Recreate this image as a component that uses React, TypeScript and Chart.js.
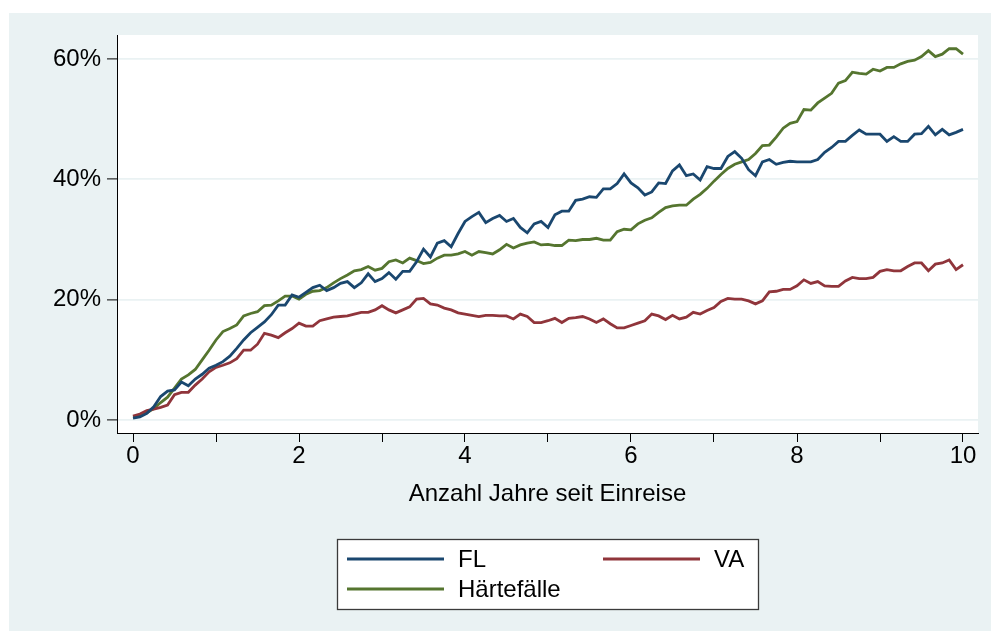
import React, { useEffect, useRef } from 'react';
import { Chart, registerables } from 'chart.js';

Chart.register(...registerables);

// ---------- data ----------
const seriesLabels = ['FL', 'VA', 'Härtefälle'];
const seriesColors = ['#1A476F', '#90353B', '#55752F'];
const xAxisTitle = 'Anzahl Jahre seit Einreise';
const xTickValues = [0, 1, 2, 3, 4, 5, 6, 7, 8, 9, 10];
const xLabelledTicks = [0, 2, 4, 6, 8, 10];
const yTickValues = [0, 20, 40, 60];
const monthsPerYear = 12;

// monthly shares in %, month 0 .. 120
const FL = [
  0.3, 0.5, 1.1, 2.2, 3.9, 4.8, 5.0, 6.3, 5.7, 6.8,
  7.6, 8.6, 9.1, 9.7, 10.6, 11.9, 13.3, 14.5, 15.4, 16.3,
  17.5, 19.1, 19.1, 20.8, 20.4, 21.2, 22.0, 22.4, 21.5, 22.0,
  22.7, 23.0, 22.0, 22.8, 24.3, 23.0, 23.5, 24.5, 23.4, 24.7,
  24.7, 26.3, 28.4, 27.1, 29.4, 29.8, 28.8, 31.0, 33.0, 33.8,
  34.5, 32.8, 33.5, 34.0, 33.0, 33.5, 32.0, 31.1, 32.6, 33.0,
  32.0, 34.1, 34.7, 34.7, 36.5, 36.7, 37.1, 37.0, 38.4, 38.4,
  39.3, 40.9, 39.4, 38.6, 37.4, 37.9, 39.4, 39.3, 41.4, 42.4,
  40.6, 40.9, 39.9, 42.1, 41.8, 41.8, 43.8, 44.6, 43.5, 41.6,
  40.6, 42.9, 43.3, 42.5, 42.8, 43.0, 42.9, 42.9, 42.9, 43.3,
  44.5, 45.3, 46.3, 46.3, 47.3, 48.2, 47.5, 47.5, 47.5, 46.3,
  47.1, 46.3, 46.3, 47.5, 47.6, 48.8, 47.4, 48.3, 47.4, 47.8,
  48.3,
];

const VA = [
  0.66, 1.0, 1.55, 1.8, 2.1, 2.5, 4.2, 4.6, 4.6, 5.8,
  6.8, 8.0, 8.75, 9.1, 9.5, 10.2, 11.6, 11.6, 12.6, 14.4,
  14.1, 13.7, 14.5, 15.2, 16.1, 15.6, 15.6, 16.5, 16.8, 17.1,
  17.2, 17.3, 17.6, 17.9, 17.9, 18.3, 19.0, 18.3, 17.8, 18.3,
  18.8, 20.1, 20.2, 19.3, 19.1, 18.6, 18.3, 17.8, 17.6, 17.4,
  17.2, 17.4, 17.4, 17.3, 17.3, 16.8, 17.6, 17.2, 16.2, 16.2,
  16.5, 16.9, 16.2, 16.9, 17.0, 17.2, 16.8, 16.2, 16.8, 16.0,
  15.3, 15.3, 15.7, 16.1, 16.5, 17.6, 17.3, 16.7, 17.4, 16.8,
  17.1, 17.9, 17.6, 18.2, 18.7, 19.7, 20.2, 20.1, 20.1, 19.8,
  19.3, 19.8, 21.3, 21.4, 21.7, 21.7, 22.3, 23.3, 22.7, 23.0,
  22.3, 22.2, 22.2, 23.1, 23.7, 23.5, 23.5, 23.7, 24.7, 25.0,
  24.8, 24.8, 25.5, 26.1, 26.1, 24.8, 25.9, 26.1, 26.6, 25.0,
  25.8,
];

const HF = [
  0.55, 0.66, 1.2, 1.9, 2.9, 3.8, 5.3, 6.8, 7.5, 8.4,
  10.0, 11.6, 13.3, 14.7, 15.2, 15.8, 17.3, 17.7, 18.0, 19.0,
  19.1, 19.8, 20.6, 20.6, 20.1, 20.9, 21.4, 21.5, 22.0, 22.8,
  23.5, 24.1, 24.8, 25.0, 25.5, 24.9, 25.2, 26.3, 26.6, 26.1,
  26.9, 26.5, 26.0, 26.2, 26.9, 27.4, 27.4, 27.6, 28.0, 27.4,
  28.0, 27.8, 27.6, 28.3, 29.2, 28.6, 29.1, 29.4, 29.6, 29.1,
  29.2, 29.0, 29.0, 29.9, 29.8, 30.0, 30.0, 30.2, 29.9, 29.9,
  31.3, 31.7, 31.6, 32.6, 33.2, 33.6, 34.5, 35.3, 35.6, 35.7,
  35.7, 36.7, 37.5, 38.5, 39.7, 40.8, 41.8, 42.5, 42.9, 43.3,
  44.3, 45.6, 45.7, 47.0, 48.5, 49.3, 49.6, 51.6, 51.5, 52.7,
  53.5, 54.3, 56.0, 56.4, 57.8, 57.6, 57.5, 58.3, 58.0, 58.6,
  58.6, 59.2, 59.6, 59.8, 60.4, 61.4, 60.4, 60.8, 61.7, 61.7,
  60.8,
];

const seriesValues = [FL, VA, HF];

// ---------- styling ----------
const W = 991;
const H = 631;
const BG = '#EAF2F3';
const FONT = '"Liberation Sans", Arial, sans-serif';
const FONT_SIZE = 24;
const LINE_W = 2.8;

const backgroundPlugin = {
  id: 'stataBackground',
  beforeDraw(chart: any) {
    const { ctx, chartArea } = chart;
    ctx.save();
    ctx.fillStyle = '#FFFFFF';
    ctx.fillRect(0, 0, W, H);
    ctx.fillStyle = BG;
    ctx.fillRect(9, 13, W - 9, H - 13);
    ctx.fillStyle = '#FFFFFF';
    ctx.fillRect(chartArea.left, chartArea.top, chartArea.right - chartArea.left, chartArea.bottom - chartArea.top);
    ctx.restore();
  },
};

const legendPlugin = {
  id: 'boxLegend',
  afterDraw(chart: any) {
    const { ctx } = chart;
    const ds = chart.data.datasets;
    ctx.save();
    ctx.fillStyle = '#FFFFFF';
    ctx.fillRect(337, 539, 421, 70);
    ctx.strokeStyle = '#3A3A3A';
    ctx.lineWidth = 1.3;
    ctx.strokeRect(337.5, 539.5, 421, 70);
    const slots = [
      { x: 347, y: 559 },
      { x: 603, y: 559 },
      { x: 347, y: 589 },
    ];
    ds.forEach((d: any, i: number) => {
      const s = slots[i];
      ctx.strokeStyle = d.borderColor;
      ctx.lineWidth = LINE_W;
      ctx.beginPath();
      ctx.moveTo(s.x, s.y);
      ctx.lineTo(s.x + 97, s.y);
      ctx.stroke();
      ctx.fillStyle = '#000000';
      ctx.font = `${FONT_SIZE}px ${FONT}`;
      ctx.textAlign = 'left';
      ctx.textBaseline = 'middle';
      ctx.fillText(d.label, s.x + 111, s.y + 1);
    });
    ctx.restore();
  },
};

export default function App() {
  const canvasRef = useRef<HTMLCanvasElement | null>(null);

  useEffect(() => {
    const canvas = canvasRef.current;
    if (!canvas) return;
    const datasets = seriesValues.map((vals, i) => ({
      label: seriesLabels[i],
      data: vals.map((v, m) => ({ x: m / monthsPerYear, y: v })),
      borderColor: seriesColors[i],
      backgroundColor: seriesColors[i],
      borderWidth: LINE_W,
      pointRadius: 0,
      tension: 0,
      fill: false,
    }));

    const chart = new Chart(canvas, {
      type: 'line',
      data: { datasets },
      plugins: [backgroundPlugin, legendPlugin],
      options: {
        responsive: false,
        animation: false,
        devicePixelRatio: 1,
        layout: { padding: { top: 35, right: 13, left: 0, bottom: 0 } },
        plugins: {
          legend: { display: false },
          tooltip: { enabled: false },
          title: { display: false },
        },
        scales: {
          x: {
            type: 'linear',
            min: -16 / 83,
            max: 10 + 15 / 83,
            afterBuildTicks: (scale: any) => {
              scale.ticks = xTickValues.map((v) => ({ value: v }));
            },
            afterFit: (scale: any) => {
              scale.height = H - 35 - 398;
            },
            ticks: {
              autoSkip: false,
              maxRotation: 0,
              padding: 0,
              color: '#000',
              font: { family: FONT, size: FONT_SIZE },
              callback: (v: any) => (xLabelledTicks.includes(Number(v)) ? String(v) : ''),
            },
            grid: {
              drawOnChartArea: false,
              drawTicks: true,
              tickLength: 9,
              tickColor: '#000',
              tickWidth: 1,
            },
            border: { display: true, color: '#000', width: 1 },
            title: {
              display: true,
              text: xAxisTitle,
              color: '#000',
              font: { family: FONT, size: FONT_SIZE },
              padding: { top: 0, bottom: 122 },
            },
          },
          y: {
            type: 'linear',
            min: -13 / (361 / 60),
            max: 385 / (361 / 60),
            afterBuildTicks: (scale: any) => {
              scale.ticks = yTickValues.map((v) => ({ value: v }));
            },
            afterFit: (scale: any) => {
              scale.width = 117;
            },
            ticks: {
              padding: 6,
              color: '#000',
              font: { family: FONT, size: FONT_SIZE },
              callback: (v: any) => `${v}%`,
            },
            grid: {
              color: BG,
              lineWidth: 1.8,
              drawTicks: true,
              tickLength: 10,
              tickColor: '#000',
              tickWidth: 1,
            },
            border: { display: true, color: '#000', width: 1 },
          },
        },
      },
    });
    return () => chart.destroy();
  }, []);

  return (
    <div style={{ position: 'absolute', left: 0, top: 0, width: W, height: H }}>
      <canvas ref={canvasRef} width={W} height={H} style={{ width: W, height: H, display: 'block' }} />
    </div>
  );
}
